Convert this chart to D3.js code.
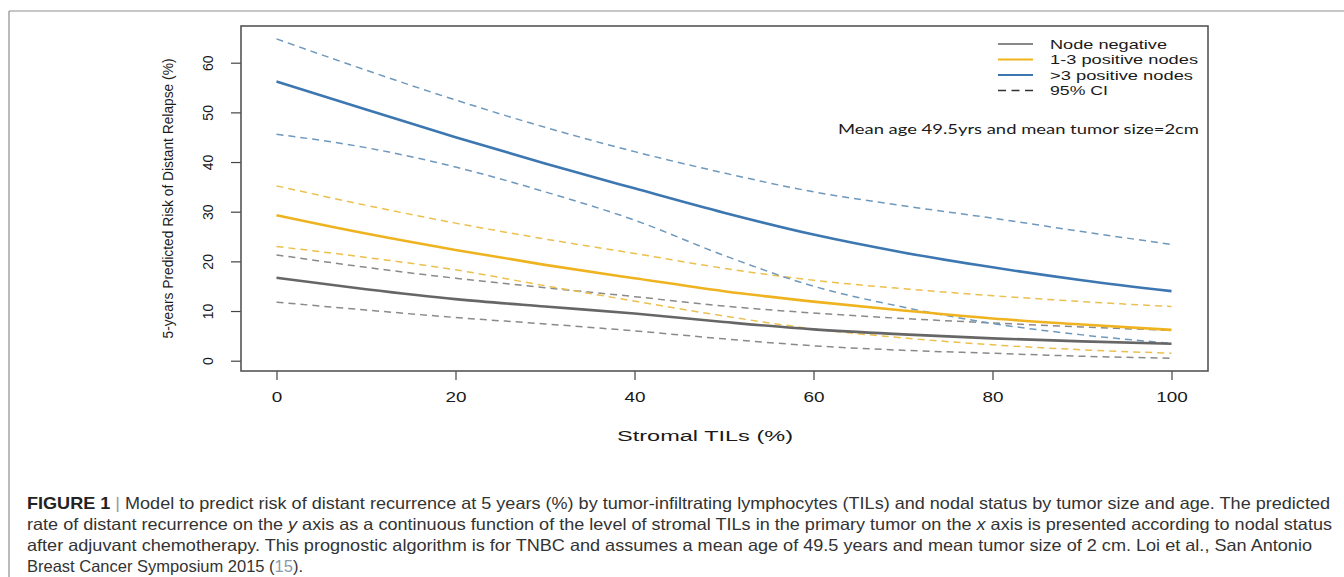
<!DOCTYPE html>
<html>
<head>
<meta charset="utf-8">
<script src="https://cdn.jsdelivr.net/npm/d3@7"></script>
<style>
  body { margin: 0; background: #fff; }
  svg { display: block; }
</style>
</head>
<body>
<svg id="svg1" width="1344" height="577"></svg>
<script>
"use strict";

// stromal TILs (%) on the x axis
const tils = [0, 10, 20, 30, 40, 50, 60, 70, 80, 90, 100];

// predicted 5-year risk of distant relapse (%)
const nodeNeg     = [16.7, 14.4, 12.4, 10.9, 9.5, 7.8, 6.3, 5.3, 4.5, 3.9, 3.4];
const nodeNegHi   = [21.3, 18.8, 16.6, 14.7, 12.9, 11.0, 9.6, 8.5, 7.6, 6.8, 6.1];
const nodeNegLo   = [11.8, 10.2, 8.7, 7.4, 6.0, 4.4, 3.0, 2.1, 1.5, 0.9, 0.5];
const nodes13     = [29.3, 25.6, 22.3, 19.3, 16.6, 14.0, 11.9, 10.1, 8.5, 7.3, 6.2];
const nodes13Hi   = [35.2, 31.3, 27.7, 24.5, 21.6, 18.6, 16.2, 14.5, 13.1, 11.9, 10.9];
const nodes13Lo   = [23.0, 20.8, 18.3, 15.1, 12.0, 9.0, 6.4, 4.6, 3.2, 2.2, 1.5];
const nodes3      = [56.2, 50.6, 45.0, 39.7, 34.7, 29.8, 25.4, 21.8, 18.8, 16.2, 14.0];
const nodes3Hi    = [64.8, 58.5, 52.5, 47.0, 42.1, 37.8, 34.0, 31.2, 28.7, 26.0, 23.4];
const nodes3Lo    = [45.6, 42.9, 39.0, 34.0, 28.3, 21.2, 15.0, 10.8, 7.5, 5.2, 3.5];

const xTicks = [0, 20, 40, 60, 80, 100];
const yTicks = [0, 10, 20, 30, 40, 50, 60];

const legendLabels = ["Node negative", "1-3 positive nodes", ">3 positive nodes", "95% CI"];

const captionLines = [
  "rate of distant recurrence on the ",
  "after adjuvant chemotherapy. This prognostic algorithm is for TNBC and assumes a mean age of 49.5 years and mean tumor size of 2 cm. Loi et al., San Antonio",
  "Breast Cancer Symposium 2015 ("
];

const svg = d3.select("#svg1");

// figure frame (top and left rule)
svg.append("line").attr("x1", 9).attr("x2", 1344).attr("y1", 11).attr("y2", 11)
   .attr("stroke", "#b4b4b4").attr("stroke-width", 1.5);
svg.append("line").attr("x1", 9).attr("x2", 9).attr("y1", 11).attr("y2", 577)
   .attr("stroke", "#8c8c8c").attr("stroke-width", 1.2);

// plot box
let box = {left: 241, top: 26, right: 1208, bottom: 371};

let x = d3.scaleLinear().domain([0, 100]).range([276.5, 1171.5]);
let y = d3.scaleLinear().domain([0, 60]).range([360.7, 62.7]);

const SX = 1.35; // the R output is stretched sideways

// x axis
let gx = svg.append("g")
  .attr("transform", `translate(0,${box.bottom})`)
  .call(d3.axisBottom(x).tickValues(xTicks).tickSize(9).tickPadding(0).tickFormat(d3.format("d")));
gx.select(".domain").remove();
gx.selectAll(".tick line").attr("stroke", "#444").attr("stroke-width", 1.2);
gx.selectAll(".tick text")
  .attr("y", 31).attr("dy", null)
  .attr("transform", `scale(${SX},1)`)
  .attr("fill", "#1a1a1a")
  .style("font-family", "'Liberation Sans', Arial, sans-serif")
  .style("font-size", "14px");

// y axis, R style labels parallel to the axis
let gy = svg.append("g")
  .attr("transform", `translate(${box.left},0)`)
  .call(d3.axisLeft(y).tickValues(yTicks).tickSize(10).tickFormat(d3.format("d")));
gy.select(".domain").remove();
gy.selectAll(".tick line").attr("stroke", "#444").attr("stroke-width", 1.2);
gy.selectAll(".tick text")
  .attr("x", 0).attr("y", -33).attr("dy", null)
  .attr("dominant-baseline", "central")
  .attr("text-anchor", "middle")
  .attr("transform", "rotate(-90)")
  .attr("fill", "#1a1a1a")
  .style("font-family", "'Liberation Sans', Arial, sans-serif")
  .style("font-size", "14px");

svg.append("rect")
  .attr("x", box.left).attr("y", box.top)
  .attr("width", box.right - box.left).attr("height", box.bottom - box.top)
  .attr("fill", "none").attr("stroke", "#555").attr("stroke-width", 1.6);

// axis titles
svg.append("text")
  .attr("transform", `translate(167.5,${(box.top + box.bottom) / 2}) rotate(-90)`)
  .attr("text-anchor", "middle").attr("dominant-baseline", "central")
  .attr("textLength", 280).attr("lengthAdjust", "spacingAndGlyphs")
  .attr("fill", "#1a1a1a")
  .style("font-family", "'Liberation Sans', Arial, sans-serif").style("font-size", "14px")
  .text("5-years Predicted Risk of Distant Relapse (%)");

svg.append("text")
  .attr("x", 617).attr("y", 441)
  .attr("textLength", 176).attr("lengthAdjust", "spacingAndGlyphs")
  .attr("fill", "#1a1a1a")
  .style("font-family", "'Liberation Sans', Arial, sans-serif").style("font-size", "14px")
  .text("Stromal TILs (%)");

// curves
let line = d3.line().x((d, i) => x(tils[i])).y(d => y(d)).curve(d3.curveMonotoneX);

let series = [
  {vals: nodeNegLo, color: "#8a8a8a", width: 1.5, dash: "7,5"},
  {vals: nodeNegHi, color: "#8a8a8a", width: 1.5, dash: "7,5"},
  {vals: nodes13Lo, color: "#ecc04e", width: 1.5, dash: "7,5"},
  {vals: nodes13Hi, color: "#ecc04e", width: 1.5, dash: "7,5"},
  {vals: nodes3Lo, color: "#6f98bd", width: 1.5, dash: "7,5"},
  {vals: nodes3Hi, color: "#6f98bd", width: 1.5, dash: "7,5"},
  {vals: nodeNeg, color: "#666666", width: 2.6, dash: null},
  {vals: nodes13, color: "#efb320", width: 2.6, dash: null},
  {vals: nodes3, color: "#3d77b1", width: 2.6, dash: null}
];

svg.append("g").selectAll("path")
  .data(series)
  .enter().append("path")
    .attr("d", d => line(d.vals))
    .attr("fill", "none")
    .attr("stroke", d => d.color)
    .attr("stroke-width", d => d.width)
    .attr("stroke-dasharray", d => d.dash);

// legend
let legendColors = ["#888888", "#efb320", "#3d77b1", "#333333"];
let legendWidths = [117, 148, 143, 58];
let legendY = [44, 59.5, 75, 90.5];
let lg = svg.append("g");
legendLabels.forEach((lab, i) => {
  lg.append("line")
    .attr("x1", 998).attr("x2", 1033).attr("y1", legendY[i]).attr("y2", legendY[i])
    .attr("stroke", legendColors[i])
    .attr("stroke-width", i < 3 ? 2.2 : 1.3)
    .attr("stroke-dasharray", i < 3 ? null : "8,5.5");
  lg.append("text")
    .attr("x", 1050).attr("y", legendY[i]).attr("dy", "0.36em")
    .attr("textLength", legendWidths[i]).attr("lengthAdjust", "spacingAndGlyphs")
    .attr("fill", "#1a1a1a")
    .style("font-family", "'Liberation Sans', Arial, sans-serif").style("font-size", "13px")
    .text(lab);
});

svg.append("text")
  .attr("x", 838).attr("y", 128.5).attr("dy", "0.36em")
  .attr("textLength", 361).attr("lengthAdjust", "spacingAndGlyphs")
  .attr("fill", "#1a1a1a")
  .style("font-family", "Lato, 'Open Sans', sans-serif").style("font-size", "14px")
  .text("Mean age 49.5yrs and mean tumor size=2cm");

// caption
let cap = svg.append("g")
  .style("font-family", "'Liberation Sans Narrow', 'Arial Narrow', 'Liberation Sans', sans-serif")
  .style("font-size", "16.5px")
  .attr("fill", "#333");

let capY = [509, 530, 551, 572];

let t1 = cap.append("text").attr("x", 27).attr("y", capY[0])
  .attr("textLength", 1303).attr("lengthAdjust", "spacingAndGlyphs");
t1.append("tspan").attr("font-weight", "bold").attr("fill", "#222").text("FIGURE 1");
t1.append("tspan").attr("fill", "#999").text(" | ");
t1.append("tspan").text("Model to predict risk of distant recurrence at 5 years (%) by tumor-infiltrating lymphocytes (TILs) and nodal status by tumor size and age. The predicted");

let t2 = cap.append("text").attr("x", 27).attr("y", capY[1])
  .attr("textLength", 1305).attr("lengthAdjust", "spacingAndGlyphs");
t2.append("tspan").text(captionLines[0]);
t2.append("tspan").attr("font-style", "italic").text("y");
t2.append("tspan").text(" axis as a continuous function of the level of stromal TILs in the primary tumor on the ");
t2.append("tspan").attr("font-style", "italic").text("x");
t2.append("tspan").text(" axis is presented according to nodal status");

cap.append("text").attr("x", 27).attr("y", capY[2])
  .attr("textLength", 1285).attr("lengthAdjust", "spacingAndGlyphs")
  .text(captionLines[1]);

// last line at natural width
let t4 = cap.append("text").attr("x", 27).attr("y", capY[3]);
t4.append("tspan").text(captionLines[2]);
t4.append("tspan").attr("fill", "#8a9aaa").text("15");
t4.append("tspan").text(").");
</script>
</body>
</html>
